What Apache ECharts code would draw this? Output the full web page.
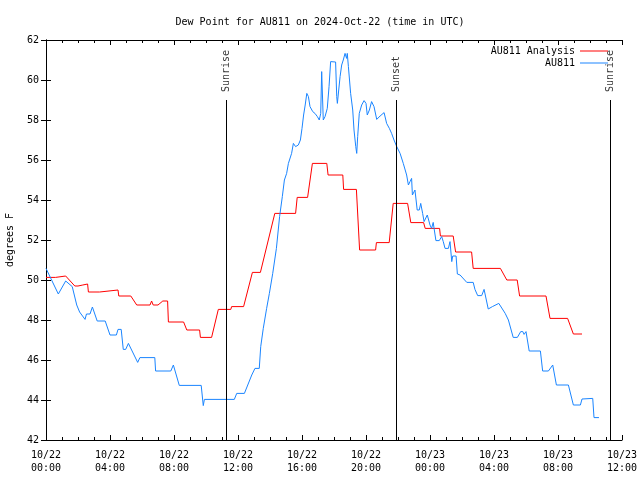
<!DOCTYPE html>
<html><head><meta charset="utf-8">
<script src="https://cdn.jsdelivr.net/npm/echarts@6/dist/echarts.min.js"></script>
<style>html,body{margin:0;padding:0;background:#fff}#c{width:640px;height:480px}</style>
</head><body><div id="c"></div>
<script>
const titleText = 'Dew Point for AU811 on 2024-Oct-22 (time in UTC)';
const yAxisName = 'degrees F';
const xTickLabels = ['10/22\n00:00','10/22\n04:00','10/22\n08:00','10/22\n12:00','10/22\n16:00','10/22\n20:00','10/23\n00:00','10/23\n04:00','10/23\n08:00','10/23\n12:00'];
const seriesNames = ['AU811 Analysis', 'AU811'];

// hours since 2024-10-22 00:00 UTC
const analysisHours = [0,0.6,0.65,1.23,1.8,2.0,2.05,2.3,2.35,2.6,2.65,3.35,3.4,4.5,4.55,5.3,5.67,6.5,6.6,6.7,7.0,7.3,7.6,7.65,8.6,8.8,9.6,9.65,10.35,10.77,11.55,11.6,12.35,12.9,13.4,14.3,15.6,15.7,16.35,16.65,17.55,17.63,18.55,18.6,19.4,19.6,20.6,20.65,21.45,21.7,22.6,22.8,23.6,23.7,24.6,24.65,25.45,25.6,26.6,26.7,28.4,28.8,29.45,29.6,31.25,31.5,32.6,32.96,33.5];
const analysisValues = [50.13,50.13,50.2,50.2,49.7,49.7,49.75,49.75,49.8,49.8,49.4,49.4,49.5,49.5,49.2,49.2,48.75,48.75,48.95,48.75,48.75,48.95,48.95,47.9,47.9,47.5,47.5,47.13,47.13,48.53,48.53,48.67,48.67,50.38,50.38,53.33,53.33,54.13,54.13,55.83,55.83,55.25,55.25,54.53,54.53,51.5,51.5,51.87,51.87,53.83,53.83,52.87,52.87,52.58,52.58,52.2,52.2,51.4,51.4,50.58,50.58,50.0,50.0,49.2,49.2,48.08,48.08,47.3,47.3];

const obsHours = [0,0.77,1.23,1.64,1.92,2.1,2.44,2.53,2.75,2.9,3.0,3.2,3.7,4.0,4.4,4.5,4.7,4.83,4.98,5.15,5.73,5.87,6.8,6.85,7.8,7.96,8.05,8.33,9.7,9.83,9.9,11.77,11.92,12.4,12.86,13.06,13.33,13.42,13.58,13.79,13.96,14.17,14.4,14.6,14.77,14.9,15.04,15.15,15.35,15.46,15.6,15.77,15.9,16.0,16.1,16.2,16.3,16.4,16.5,16.67,16.81,16.96,17.08,17.17,17.23,17.33,17.44,17.58,17.69,17.79,18.1,18.17,18.21,18.38,18.48,18.58,18.69,18.79,18.83,18.9,19.04,19.17,19.25,19.36,19.42,19.48,19.58,19.73,19.88,20.0,20.08,20.21,20.35,20.5,20.67,20.88,21.13,21.29,21.46,21.6,21.75,21.92,22.13,22.33,22.54,22.65,22.75,22.85,22.9,23.06,23.13,23.2,23.33,23.42,23.54,23.63,23.83,24.0,24.1,24.2,24.3,24.37,24.58,24.73,24.83,24.94,25.15,25.25,25.36,25.42,25.63,25.71,25.88,26.3,26.7,26.81,26.98,27.23,27.38,27.48,27.64,27.9,28.3,28.7,28.9,29.2,29.46,29.67,29.8,29.88,30.0,30.2,30.9,31.04,31.4,31.67,31.9,32.65,32.96,33.4,33.5,34.17,34.25,34.56];
const obsValues = [50.58,49.3,49.95,49.67,48.75,48.4,48.03,48.3,48.3,48.65,48.65,47.95,47.95,47.25,47.25,47.53,47.53,46.53,46.53,46.83,45.88,46.12,46.12,45.45,45.45,45.75,45.65,44.73,44.73,43.72,44.03,44.03,44.33,44.33,45.25,45.58,45.58,46.67,47.58,48.58,49.33,50.33,51.58,53.17,54.17,55.0,55.33,55.83,56.33,56.83,56.67,56.75,57.0,57.58,58.25,58.75,59.33,59.17,58.67,58.42,58.33,58.17,58.0,58.33,60.42,58.0,58.17,58.58,59.67,60.92,60.9,59.17,58.83,60.17,60.75,61.0,61.33,61.08,61.33,60.67,59.33,58.5,57.5,56.67,56.33,57.17,58.33,58.75,58.97,58.83,58.25,58.5,58.92,58.67,58.03,58.2,58.37,57.83,57.58,57.33,57.0,56.67,56.33,55.83,55.25,54.75,54.92,55.08,54.25,54.5,54.0,53.5,53.5,53.83,53.33,52.92,53.25,52.75,52.58,52.88,52.88,51.97,51.97,52.17,51.92,51.58,51.58,51.92,50.92,51.2,51.2,50.3,50.25,49.88,49.88,49.53,49.22,49.22,49.53,49.53,48.55,48.67,48.83,48.33,48.0,47.13,47.13,47.42,47.42,47.28,47.42,46.45,46.45,45.45,45.45,45.75,44.75,44.75,43.75,43.75,44.05,44.08,43.12,43.12];

const eventNames = ['Sunrise', 'Sunset', 'Sunrise'];
const eventHours = [11.25, 21.875, 35.25];
const eventLineTop = 59.0;
const eventLabelBase = 59.4;

const FONT = 'DejaVu Sans Mono';
const zip = (a, b) => a.map((v, i) => [v, b[i]]);

const chart = echarts.init(document.getElementById('c'), null, {renderer: 'canvas'});
const axisBase = {
  type: 'value', min: 0, max: 36, interval: 4,
  axisLine: {show: true, lineStyle: {color: '#000', width: 1}},
  splitLine: {show: false}
};
chart.setOption({
  animation: false,
  backgroundColor: '#fff',
  title: {text: titleText, left: 'center', top: 12,
    textStyle: {fontFamily: FONT, fontSize: 10, fontWeight: 'normal', color: '#000'}},
  legend: {
    data: seriesNames.map(n => ({name: n, icon: 'rect'})),
    orient: 'vertical', right: 27, top: 40, align: 'right',
    itemWidth: 28, itemHeight: 1, itemGap: 0,
    textStyle: {fontFamily: FONT, fontSize: 10, color: '#000', lineHeight: 12}
  },
  grid: {left: 46, right: 18, top: 40, bottom: 40, containLabel: false, outerBoundsMode: 'none'},
  xAxis: [
    Object.assign({}, axisBase, {
      position: 'bottom',
      axisTick: {show: true, inside: true, length: 5, lineStyle: {color: '#000'}},
      minorTick: {show: true, splitNumber: 4, length: 3, lineStyle: {color: '#000'}},
      axisLabel: {margin: 9, fontFamily: FONT, fontSize: 10, color: '#000', lineHeight: 13,
        formatter: v => xTickLabels[Math.round(v / 4)]}
    }),
    Object.assign({}, axisBase, {
      position: 'top',
      axisTick: {show: true, inside: true, length: 5, lineStyle: {color: '#000'}},
      minorTick: {show: true, splitNumber: 4, length: 3, lineStyle: {color: '#000'}},
      axisLabel: {show: false}
    })
  ],
  yAxis: [
    {type: 'value', min: 42, max: 62, interval: 2, position: 'left',
      name: yAxisName, nameLocation: 'middle', nameGap: 31, nameRotate: 90,
      nameTextStyle: {fontFamily: FONT, fontSize: 10, color: '#000'},
      axisLine: {show: true, lineStyle: {color: '#000', width: 1}},
      axisTick: {show: true, inside: true, length: 5, lineStyle: {color: '#000'}},
      axisLabel: {margin: 7, fontFamily: FONT, fontSize: 10, color: '#000'},
      splitLine: {show: false}},
    {type: 'value', min: 42, max: 62, interval: 2, position: 'right',
      axisLine: {show: true, lineStyle: {color: '#000', width: 1}},
      axisTick: {show: true, inside: true, length: 5, lineStyle: {color: '#000'}},
      axisLabel: {show: false}, splitLine: {show: false}}
  ],
  series: [
    {name: seriesNames[0], type: 'line', data: zip(analysisHours, analysisValues),
      symbol: 'none', color: '#ff0000', lineStyle: {color: '#ff0000', width: 1}},
    {name: seriesNames[1], type: 'line', data: zip(obsHours, obsValues),
      symbol: 'none', color: '#1a85ff', lineStyle: {color: '#1a85ff', width: 1}},
    {name: 'events', type: 'scatter', symbolSize: 0,
      itemStyle: {color: 'rgba(0,0,0,0)'},
      data: eventHours.map((h, i) => ({name: eventNames[i], value: [h, eventLabelBase]})),
      label: {show: true, formatter: '{b}', position: [0, 0], rotate: 90, align: 'left',
        verticalAlign: 'middle', fontFamily: FONT, fontSize: 10, color: '#000'},
      markLine: {silent: true, symbol: ['none', 'none'], animation: false,
        lineStyle: {color: '#000', width: 1, type: 'solid'}, label: {show: false},
        data: eventHours.map(h => [{coord: [h, 42]}, {coord: [h, eventLineTop]}])}
    }
  ]
});
</script></body></html>
